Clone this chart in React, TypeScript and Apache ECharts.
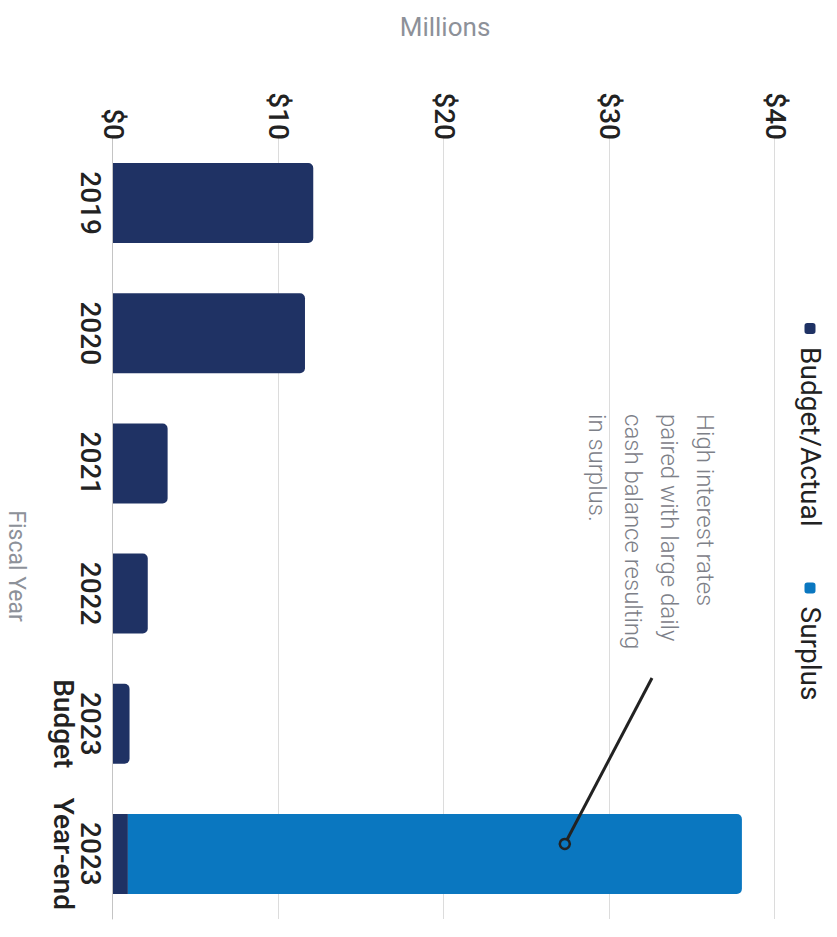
import React, { useEffect, useRef } from "react";
import * as echarts from "echarts";

const categories = ["2019", "2020", "2021", "2022", "2023\nBudget", "2023\nYear-end"];
const budgetActual = [12.1, 11.6, 3.3, 2.1, 1.0, 0.9];
const surplus: (number | null)[] = [null, null, null, null, null, 37.1];
const seriesNames = ["Budget/Actual", "Surplus"];
const valueTicks = { min: 0, max: 40, interval: 10 };
const annotationText = "High interest rates\npaired with large daily\ncash balance resulting\nin surplus.";
const annotationPoint = { category: "2023\nYear-end", value: 27.3 };

const NAVY = "#1f3264";
const BLUE = "#0a77c0";
const FONT = "Roboto, 'Liberation Sans', Arial, sans-serif";

export default function App() {
  const ref = useRef<HTMLDivElement>(null);
  useEffect(() => {
    document.body.style.margin = "0";
    const el = ref.current!;
    const chart = echarts.init(el, undefined, { renderer: "svg", width: 937, height: 837 });
    const option: any = {
      animation: false,
      backgroundColor: "#ffffff",
      textStyle: { fontFamily: FONT },
      legend: {
        left: 318,
        top: 8,
        itemWidth: 11,
        itemHeight: 11,
        itemGap: 56,
        icon: "roundRect",
        textStyle: { fontSize: 28, color: "#222", fontFamily: FONT, lineHeight: 28, padding: [0, 0, 0, 8] },
        data: seriesNames,
      },
      grid: { left: 138, right: 18, top: 62, bottom: 113, containLabel: false },
      xAxis: {
        type: "category",
        data: categories,
        axisTick: { show: false },
        axisLine: { show: true, lineStyle: { color: "#c4c4c4", width: 1 } },
        axisLabel: {
          margin: 9,
          fontSize: 28,
          lineHeight: 27,
          fontWeight: 500,
          color: "#222",
          fontFamily: FONT,
          interval: 0,
        },
      },
      yAxis: {
        type: "value",
        min: valueTicks.min,
        max: valueTicks.max,
        interval: valueTicks.interval,
        axisLine: { show: false },
        axisTick: { show: false },
        splitLine: { show: true, lineStyle: { color: "#dcdcdc", width: 1 } },
        axisLabel: {
          margin: -2,
          fontSize: 28,
          fontWeight: 500,
          color: "#222",
          fontFamily: FONT,
          formatter: (v: number) => "$" + v,
        },
      },
      series: [
        {
          name: seriesNames[0],
          type: "bar",
          stack: "total",
          barWidth: 80,
          itemStyle: { color: NAVY, borderRadius: [5, 5, 0, 0] },
          data: budgetActual.map((v, i) =>
            surplus[i] != null ? { value: v, itemStyle: { borderRadius: 0 } } : v
          ),
        },
        {
          name: seriesNames[1],
          type: "bar",
          stack: "total",
          barWidth: 80,
          itemStyle: { color: BLUE, borderRadius: [5, 5, 0, 0] },
          data: surplus.map((v) => (v == null ? "-" : v)),
        },
      ],
    };
    chart.setOption(option);
    const p = chart.convertToPixel({ gridIndex: 0 }, [annotationPoint.category, annotationPoint.value]) as number[];
    const cx = p[0] - 10;
    const cy = p[1];
    const lx = 678;
    const ly = 185;
    const r = 5;
    const dx = lx - cx;
    const dy = ly - cy;
    const len = Math.sqrt(dx * dx + dy * dy);
    chart.setOption({
      graphic: [
        {
          type: "text",
          x: 27,
          y: 392,
          rotation: Math.PI / 2,
          style: {
            text: "Millions",
            fontSize: 26,
            fill: "#8d9199",
            fontFamily: FONT,
            align: "center",
            verticalAlign: "middle",
          },
        },
        {
          type: "text",
          x: 566,
          y: 821,
          style: {
            text: "Fiscal Year",
            fontSize: 23,
            fill: "#8d9199",
            fontFamily: FONT,
            align: "center",
            verticalAlign: "middle",
          },
        },
        {
          type: "text",
          x: 414,
          y: 114,
          style: {
            text: annotationText,
            fontSize: 24,
            lineHeight: 36,
            fontWeight: 300,
            fill: "#7d8088",
            fontFamily: FONT,
            align: "left",
            verticalAlign: "top",
          },
        },
        {
          type: "line",
          shape: { x1: cx + (dx / len) * r, y1: cy + (dy / len) * r, x2: lx, y2: ly },
          style: { stroke: "#222", lineWidth: 3 },
          z: 10,
        },
        {
          type: "circle",
          shape: { cx, cy, r },
          style: { fill: "none", stroke: "#222", lineWidth: 2.5 },
          z: 10,
        },
      ],
    });
    return () => chart.dispose();
  }, []);
  return (
    <div style={{ position: "fixed", left: 0, top: 0, width: 837, height: 937, overflow: "hidden", background: "#fff" }}>
      <div
        ref={ref}
        style={{
          position: "absolute",
          left: 0,
          top: 0,
          width: 937,
          height: 837,
          transformOrigin: "0 0",
          transform: "translate(837px, 0px) rotate(90deg)",
        }}
      />
    </div>
  );
}
